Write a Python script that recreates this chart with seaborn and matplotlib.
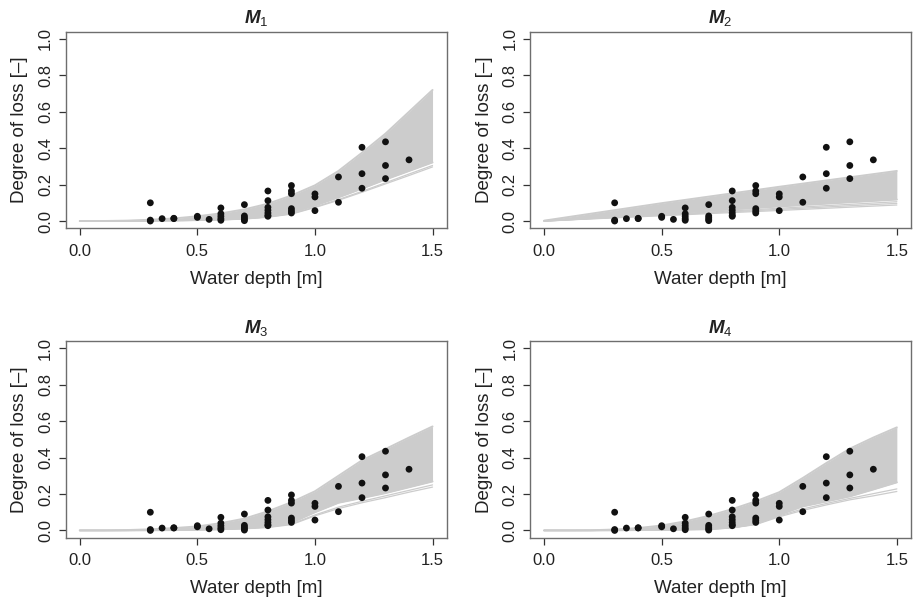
import matplotlib
matplotlib.use("Agg")
import matplotlib.pyplot as plt
import seaborn as sns

# observed points (same in every panel)
depth = [0.3, 0.3, 0.3, 0.35, 0.4, 0.4, 0.5, 0.5, 0.55,
         0.6, 0.6, 0.6, 0.6, 0.6,
         0.7, 0.7, 0.7, 0.7, 0.7,
         0.8, 0.8, 0.8, 0.8, 0.8, 0.8, 0.8,
         0.9, 0.9, 0.9, 0.9, 0.9, 0.9,
         1.0, 1.0, 1.0, 1.1, 1.1,
         1.2, 1.2, 1.2, 1.3, 1.3, 1.3, 1.4]
loss = [0.10, 0.0, 0.005, 0.013, 0.013, 0.015, 0.026, 0.02, 0.009,
        0.072, 0.04, 0.026, 0.013, 0.004,
        0.09, 0.028, 0.018, 0.009, 0.002,
        0.165, 0.112, 0.075, 0.059, 0.044, 0.031, 0.026,
        0.195, 0.165, 0.15, 0.068, 0.055, 0.044,
        0.149, 0.132, 0.057, 0.242, 0.103,
        0.405, 0.26, 0.18, 0.435, 0.305, 0.233, 0.336]

# envelope of the model curves
grid = [0.0, 0.1, 0.2, 0.3, 0.4, 0.5, 0.6, 0.7, 0.8, 0.9, 1.0, 1.1, 1.2, 1.3, 1.4, 1.5]

m1_upper = [0, 0, 0.002, 0.007, 0.014, 0.026, 0.042, 0.064, 0.095, 0.14, 0.196, 0.275, 0.375, 0.48, 0.6, 0.72]
m1_lower = [0, 0, 0, 0.001, 0.003, 0.005, 0.008, 0.014, 0.025, 0.047, 0.085, 0.13, 0.178, 0.228, 0.275, 0.322]
m1_extra = [[0, 0, 0, 0.001, 0.002, 0.004, 0.007, 0.012, 0.022, 0.04, 0.077, 0.118, 0.163, 0.21, 0.258, 0.305],
            [0, 0, 0, 0.001, 0.002, 0.004, 0.006, 0.011, 0.021, 0.038, 0.074, 0.114, 0.158, 0.204, 0.25, 0.297]]

grid2 = [0.0, 0.5, 1.0, 1.5]
m2_upper = [0.002, 0.098, 0.188, 0.275]
m2_lower = [0, 0.04, 0.08, 0.118]
m2_extra = [[0, 0.035, 0.07, 0.106],
            [0, 0.032, 0.064, 0.097],
            [0, 0.029, 0.058, 0.088]]

m3_upper = [0, 0, 0.002, 0.006, 0.013, 0.022, 0.04, 0.065, 0.105, 0.155, 0.215, 0.3, 0.385, 0.447, 0.51, 0.571]
m3_lower = [0, 0, 0, 0.001, 0.002, 0.004, 0.007, 0.012, 0.022, 0.042, 0.1, 0.152, 0.178, 0.205, 0.237, 0.269]
m3_extra = [[0, 0, 0, 0.001, 0.002, 0.003, 0.006, 0.01, 0.018, 0.035, 0.085, 0.128, 0.16, 0.19, 0.22, 0.25],
            [0, 0, 0, 0.001, 0.002, 0.003, 0.005, 0.009, 0.016, 0.032, 0.08, 0.12, 0.152, 0.18, 0.21, 0.238]]

m4_upper = [0, 0, 0.001, 0.005, 0.013, 0.027, 0.05, 0.08, 0.117, 0.16, 0.21, 0.288, 0.37, 0.449, 0.51, 0.566]
m4_lower = [0, 0, 0, 0.001, 0.002, 0.003, 0.005, 0.007, 0.016, 0.037, 0.086, 0.132, 0.159, 0.187, 0.225, 0.264]
m4_extra = [[0, 0, 0, 0.001, 0.002, 0.003, 0.005, 0.007, 0.015, 0.034, 0.08, 0.118, 0.148, 0.176, 0.202, 0.228],
            [0, 0, 0, 0, 0.001, 0.002, 0.004, 0.006, 0.014, 0.032, 0.075, 0.11, 0.14, 0.168, 0.19, 0.214]]

titles = [r"$\mathbfit{M}_{1}$", r"$\mathbfit{M}_{2}$", r"$\mathbfit{M}_{3}$", r"$\mathbfit{M}_{4}$"]
x_ticks = [0.0, 0.5, 1.0, 1.5]
x_labels = ["0.0", "0.5", "1.0", "1.5"]
y_ticks = [0.0, 0.2, 0.4, 0.6, 0.8, 1.0]
y_labels = ["0.0", "0.2", "0.4", "0.6", "0.8", "1.0"]

sns.set_theme(style="ticks")
plt.rcParams.update({
    "font.family": ["Liberation Sans", "DejaVu Sans"],
    "mathtext.fontset": "custom",
    "mathtext.rm": "Liberation Sans",
    "mathtext.it": "Liberation Sans:italic",
    "mathtext.bf": "Liberation Sans:bold",
    "mathtext.bfit": "Liberation Sans:italic:bold",
})

BAND = "#cccccc"
BOX = "#6e6e6e"

panels = [
    (grid, m1_upper, m1_lower, m1_extra),
    (grid2, m2_upper, m2_lower, m2_extra),
    (grid, m3_upper, m3_lower, m3_extra),
    (grid, m4_upper, m4_lower, m4_extra),
]
positions = [
    [0.0717, 0.6195, 0.4159, 0.3277],
    [0.5786, 0.6195, 0.4159, 0.3277],
    [0.0717, 0.1038, 0.4159, 0.3278],
    [0.5786, 0.1038, 0.4159, 0.3278],
]

fig = plt.figure(figsize=(9.16, 6.0), dpi=100)

for i, (xs, up, lo, extra) in enumerate(panels):
    ax = fig.add_axes(positions[i])
    for ln in extra:
        sns.lineplot(x=xs, y=ln, ax=ax, color=BAND, lw=0.9, zorder=1)
    ax.fill_between(xs, lo, up, color=BAND, lw=0, zorder=2)
    sns.lineplot(x=xs, y=up, ax=ax, color=BAND, lw=1.4, zorder=2)
    sns.lineplot(x=xs, y=lo, ax=ax, color=BAND, lw=1.4, zorder=2)
    sns.scatterplot(x=depth, y=loss, ax=ax, color="#111111", s=24,
                    edgecolor="none", zorder=3)

    ax.set_xlim(-0.06, 1.56)
    ax.set_ylim(-0.04, 1.04)
    ax.set_xticks(x_ticks)
    ax.set_xticklabels(x_labels)
    ax.set_yticks(y_ticks)
    ax.set_yticklabels(y_labels, rotation=90, va="center")
    ax.tick_params(axis="both", direction="out", length=5, width=0.9,
                   color="#333333", labelsize=12, labelcolor="#222222", pad=6)
    ax.tick_params(axis="y", pad=4)
    for sp in ax.spines.values():
        sp.set_visible(True)
        sp.set_color(BOX)
        sp.set_linewidth(1.0)
    ax.set_xlabel("Water depth [m]", fontsize=13.5, color="#222222", labelpad=9)
    ax.set_ylabel("Degree of loss [\u2013]", fontsize=13.5, color="#222222", labelpad=7)
    ax.set_title(titles[i], fontsize=13.5, pad=6, color="#222222")

fig.savefig("out.png", dpi=100)
